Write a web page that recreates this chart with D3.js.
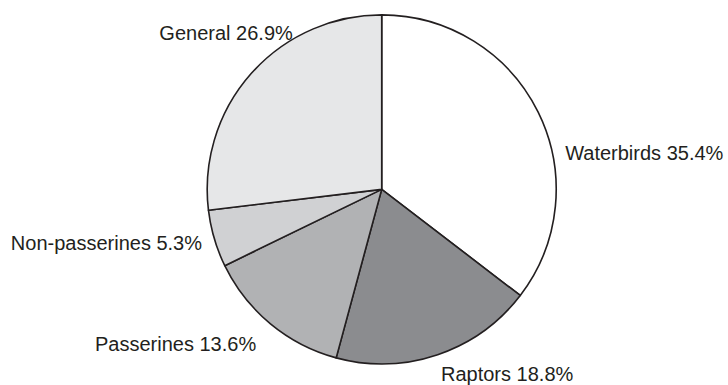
<!DOCTYPE html>
<html>
<head>
<meta charset="utf-8">
<script src="https://cdn.jsdelivr.net/npm/d3@7"></script>
<style>
  html, body { margin: 0; padding: 0; background: #fff; }
  svg { display: block; }
  text { font-family: "Liberation Sans", Arial, Helvetica, sans-serif; fill: #231f20; }
</style>
</head>
<body>
<svg id="chart" width="728" height="385"></svg>
<script>
// Share of each bird group (percent), clockwise from 12 o'clock
const categories = ["Waterbirds", "Raptors", "Passerines", "Non-passerines", "General"];
const shares = [35.4, 18.8, 13.6, 5.3, 26.9];
const fills = ["#ffffff", "#8b8c8f", "#b1b2b4", "#d0d1d3", "#e6e7e8"];

// Label placement: angle (degrees, clockwise from top), distance from centre, anchor
const labelLayout = [
  { angle: 78.8, r: 187, anchor: "start" },
  { angle: 162.2, r: 194, anchor: "start" },
  { angle: 219.1, r: 199, anchor: "end" },
  { angle: 253.4, r: 187.5, anchor: "end" },
  { angle: 330.4, r: 180, anchor: "end" }
];

const svg = d3.select("#chart");
const cx = 381.7, cy = 189.4, radius = 174.5;

const data = categories.map((c, i) => ({ name: c, value: shares[i], fill: fills[i] }));

const pie = d3.pie().sort(null).value(d => d.value);
const arc = d3.arc().innerRadius(0).outerRadius(radius);

const g = svg.append("g").attr("transform", `translate(${cx},${cy})`);

g.selectAll("path")
  .data(pie(data))
  .join("path")
  .attr("d", arc)
  .attr("fill", d => d.data.fill)
  .attr("stroke", "#231f20")
  .attr("stroke-width", 1.6)
  .attr("stroke-linejoin", "round");

g.selectAll("text.label")
  .data(pie(data))
  .join("text")
  .attr("class", "label")
  .attr("x", (d, i) => labelLayout[i].r * Math.sin(labelLayout[i].angle * Math.PI / 180))
  .attr("y", (d, i) => -labelLayout[i].r * Math.cos(labelLayout[i].angle * Math.PI / 180))
  .attr("dy", "0.36em")
  .attr("text-anchor", (d, i) => labelLayout[i].anchor)
  .style("font-size", "20px")
  .text(d => `${d.data.name} ${d.data.value.toFixed(1)}%`);
</script>
</body>
</html>
